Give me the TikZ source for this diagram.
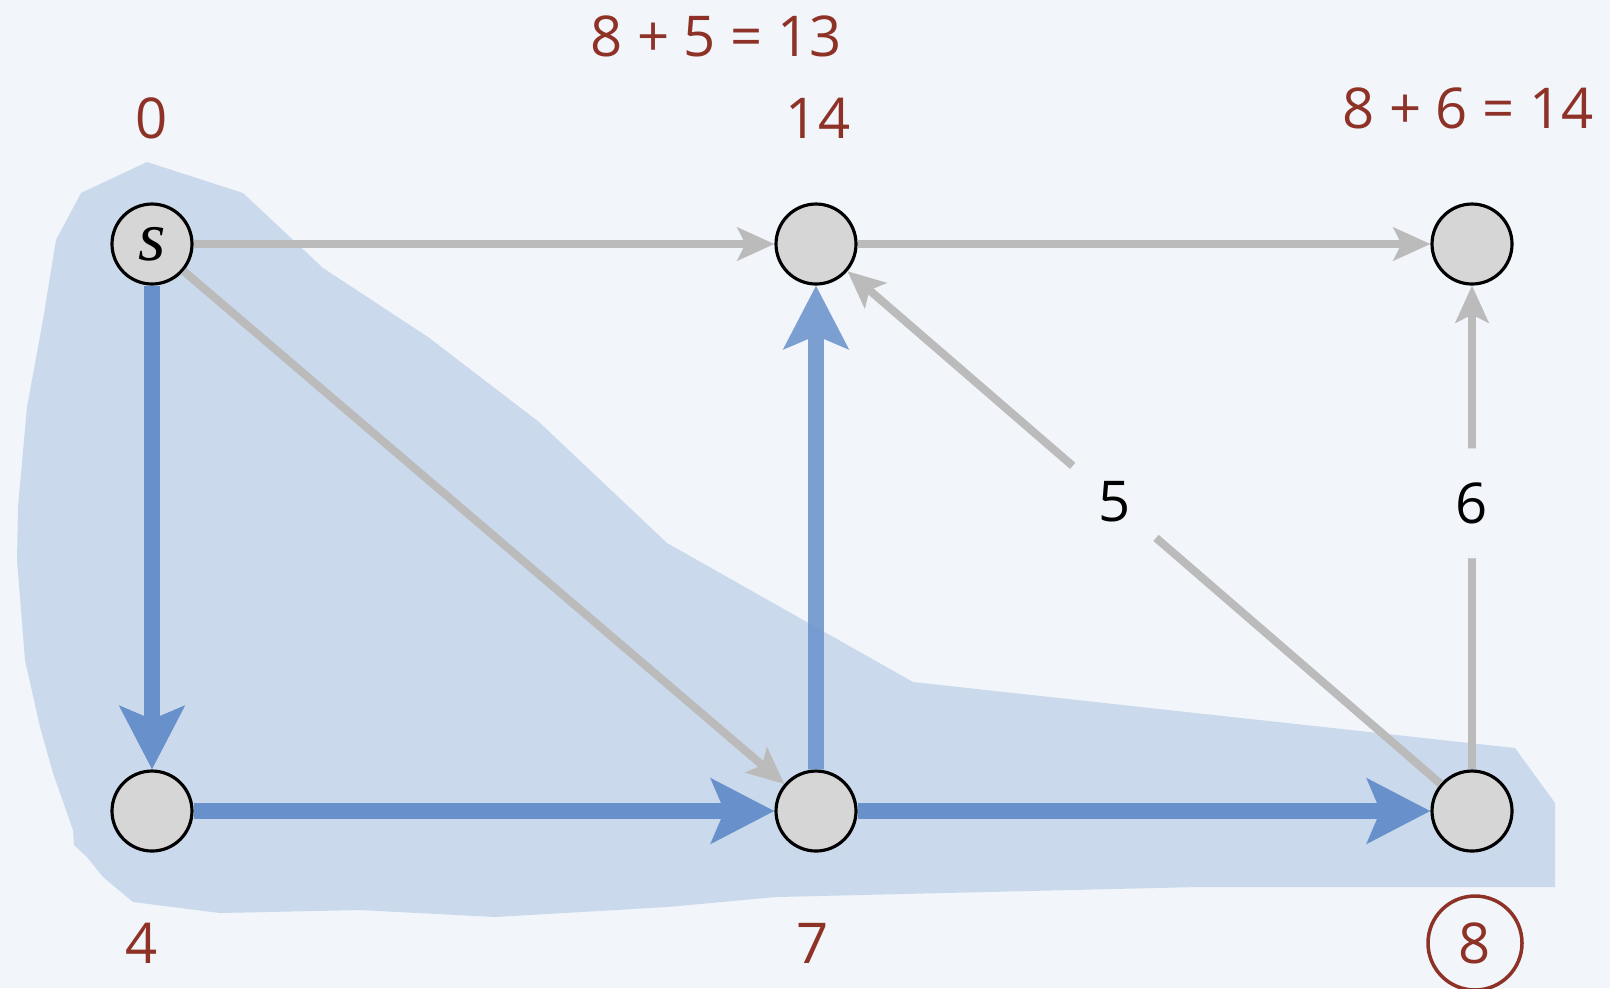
\documentclass[tikz,border=0pt]{standalone}
\usepackage{fontspec}
\setmainfont{Open Sans}
\newfontfamily\srcfont{Liberation Serif}
\usetikzlibrary{arrows.meta}
\definecolor{bgcol}{HTML}{F2F5F9}
\definecolor{regioncol}{HTML}{CADAEC}
\definecolor{treecol}{HTML}{6891CC}
\definecolor{edgecol}{HTML}{BBBBBB}
\definecolor{vertexcol}{HTML}{D6D6D6}
\definecolor{distcol}{HTML}{8E3126}
\begin{document}
\begin{tikzpicture}[x=0.1mm,y=-0.1mm,
	vertex/.style={circle,draw=black,line width=0.9pt,fill=vertexcol,minimum size=8mm,inner sep=0pt},
	plain/.style={draw=edgecol,line width=2.3pt,-{Stealth[length=3.7mm,width=3.3mm,inset=0.8mm]}},
	tree/.style={draw=treecol,fill=treecol,line width=4.5pt,-{Stealth[length=6.3mm,width=6.4mm,inset=1.3mm]}},
	dist/.style={text=distcol,font=\fontsize{16}{19}\selectfont},
	wlabel/.style={circle,fill=bgcol,minimum size=11mm,inner sep=0pt,font=\fontsize{16}{19}\selectfont}]
	\fill[bgcol] (0,0) rectangle (1610,988);
	\useasboundingbox (0,0) rectangle (1610,988);
	% shortest-path tree region
	\fill[regioncol] (147,162) -- (243,193) -- (323,268) -- (428,337) -- (539,422) -- (667,543)
		-- (913,682) -- (1515,748) -- (1555,803) -- (1555,887) -- (1197,887) -- (776,897)
		-- (667,907) -- (495,917) -- (360,910) -- (220,913) -- (133,902) -- (103,877)
		-- (87,857) -- (74,845) -- (73,830) -- (53,773) -- (40,727) -- (25,660) -- (17,560)
		-- (18,507) -- (27,407) -- (43,320) -- (56,240) -- (81,193) -- cycle;
	% vertices
	\node[vertex] (s) at (152,244) {\srcfont\itshape\fontsize{20}{22}\selectfont s};
	\node[vertex] (a) at (816,244) {};
	\node[vertex] (b) at (1472,244) {};
	\node[vertex] (c) at (152,811) {};
	\node[vertex] (d) at (816,811) {};
	\node[vertex] (e) at (1472,811) {};
	% edges
	\draw[plain] (s) -- (a);
	\draw[plain] (a) -- (b);
	\draw[plain] (s) -- (d);
	\draw[plain] (e) -- node[wlabel,pos=0.55] (w5) {5} (a);
	\draw[plain] (e) -- node[wlabel,pos=0.55] (w6) {6} (b);
	\draw[tree] (s) -- (c);
	\draw[tree] (c) -- (d);
	\draw[tree] (d) -- (e);
	\begin{scope}[transparency group,opacity=0.85]
		\draw[tree] (d) -- (a);
	\end{scope}
	% distances
	\node[dist] (ds) at (152,118) {0};
	\node[dist] (da) at (818,118) {14};
	\node[dist] (dnew) at (716,36) {8 + 5 = 13};
	\node[dist] (db) at (1468,108) {8 + 6 = 14};
	\node[dist] (dc) at (142,943) {4};
	\node[dist] (dd) at (813,943) {7};
	\node[dist,circle,draw=distcol,line width=1pt,minimum size=9.4mm,inner sep=0pt] (de) at (1475,943) {8};
\end{tikzpicture}
\end{document}
